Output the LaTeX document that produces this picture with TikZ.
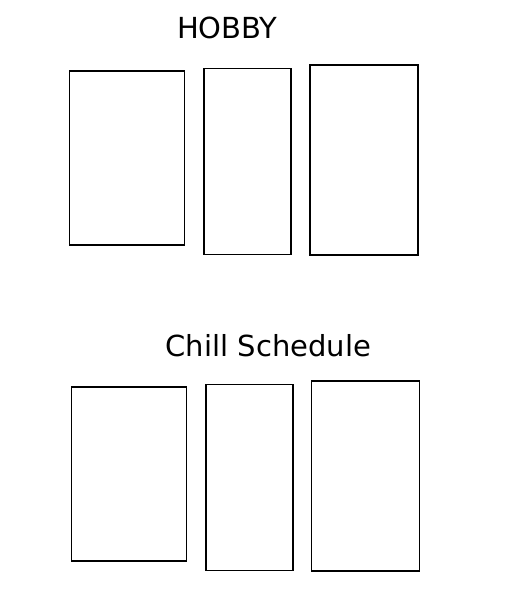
\documentclass[tikz,border=0pt]{standalone}
\usepackage{fontspec}
\setmainfont{DejaVu Sans}
\usetikzlibrary{positioning}

\begin{document}
\begin{tikzpicture}[
	x=1pt,y=-1pt,
	card/.style={draw,rectangle,line width=1.3pt,inner sep=0pt},
	narrow/.style={card,minimum width=115pt,minimum height=174pt},
	slim/.style={card,minimum width=87pt,minimum height=186pt},
	wide/.style={card,minimum width=108pt,minimum height=190pt},
	heading/.style={anchor=base,font=\fontsize{29}{34}\selectfont,inner sep=0pt}
	]
	
	% area
	\useasboundingbox (0,0) rectangle (506,602);
	
	% Prima riga
	\node[heading] (hobby) at (227.3,38.3) {HOBBY};
	\node[narrow] (hobbyA) at (126.7,158) {};
	\node[slim] (hobbyB) at (247.5,161.2) {};
	\node[wide] (hobbyC) at (364,159.9) {};
	
	% Seconda riga
	\node[heading] (chill) at (268.3,356.7) {Chill Schedule};
	\node[narrow] (chillA) at (128.8,474) {};
	\node[slim] (chillB) at (249.6,477.2) {};
	\node[wide] (chillC) at (365.7,475.9) {};
	
\end{tikzpicture}
\end{document}
